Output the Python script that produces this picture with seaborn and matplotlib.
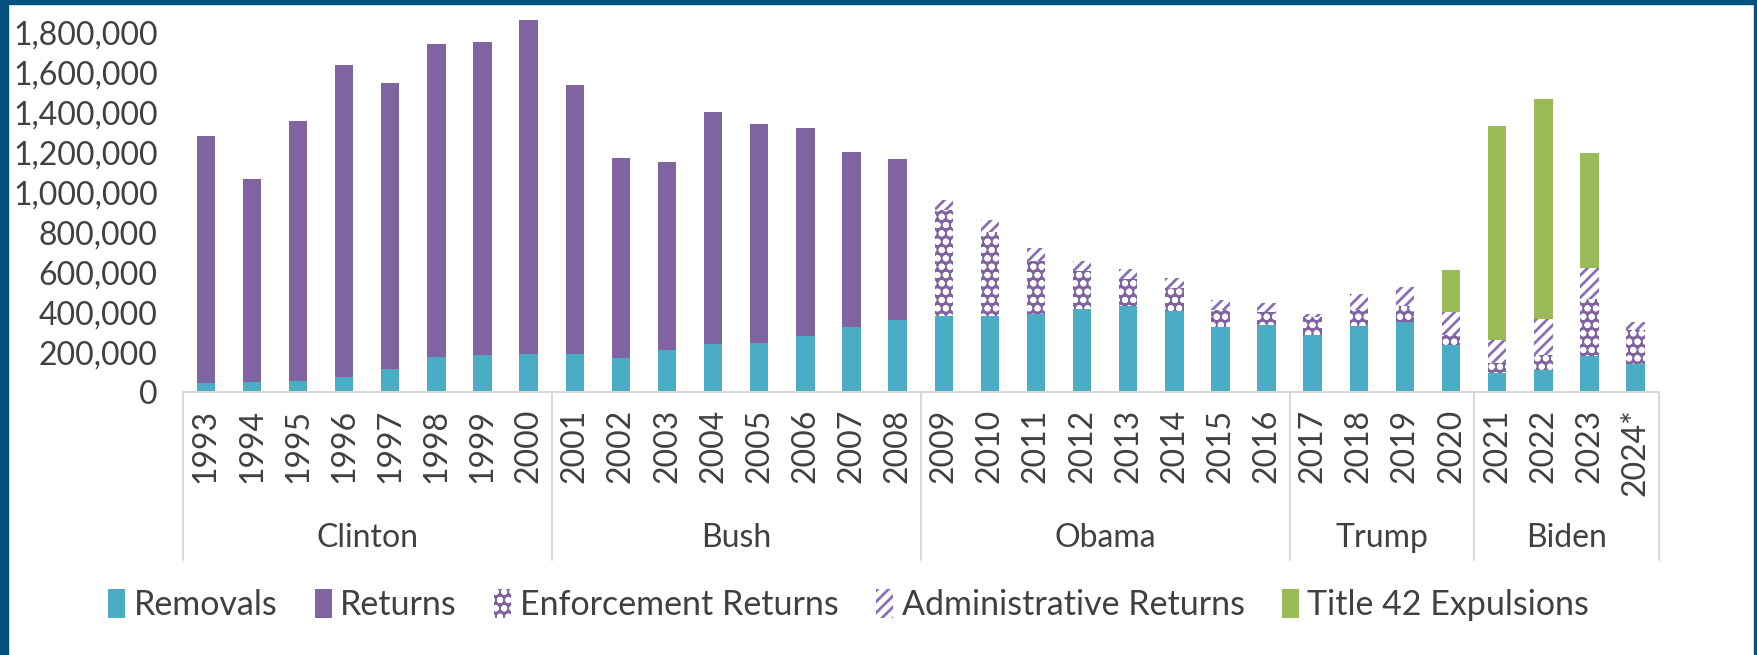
import pandas as pd
import matplotlib
matplotlib.use('Agg')
import matplotlib.pyplot as plt
from matplotlib.patches import Patch, Rectangle
from matplotlib.ticker import FuncFormatter
import seaborn as sns

years = ['1993', '1994', '1995', '1996', '1997', '1998', '1999', '2000',
         '2001', '2002', '2003', '2004', '2005', '2006', '2007', '2008',
         '2009', '2010', '2011', '2012', '2013', '2014', '2015', '2016',
         '2017', '2018', '2019', '2020', '2021', '2022', '2023', '2024*']
removals = [47000, 50000, 55000, 75000, 117000, 177000, 188000, 193000,
            192000, 170000, 213000, 242000, 247000, 283000, 325000, 363000,
            381000, 383000, 392000, 418000, 433000, 405000, 327000, 338000,
            288000, 330000, 350000, 238000, 93000, 108000, 183000, 142000]
returns = [1237000, 1020000, 1304000, 1565000, 1434000, 1567000, 1569000, 1671000,
           1346000, 1005000, 942000, 1164000, 1095000, 1039000, 880000, 807000,
           0, 0, 0, 0, 0, 0, 0, 0,
           0, 0, 0, 0, 0, 0, 0, 0]
enforcement_returns = [0, 0, 0, 0, 0, 0, 0, 0,
                       0, 0, 0, 0, 0, 0, 0, 0,
                       534000, 419000, 266000, 187000, 134000, 118000, 86000, 62000,
                       87000, 83000, 83000, 50000, 50000, 77000, 284000, 171000]
admin_returns = [0, 0, 0, 0, 0, 0, 0, 0,
                 0, 0, 0, 0, 0, 0, 0, 0,
                 47000, 58000, 64000, 50000, 50000, 48000, 47000, 47000,
                 17000, 79000, 94000, 114000, 120000, 183000, 155000, 39000]
title42 = [0, 0, 0, 0, 0, 0, 0, 0,
           0, 0, 0, 0, 0, 0, 0, 0,
           0, 0, 0, 0, 0, 0, 0, 0,
           0, 0, 0, 208000, 1071000, 1100000, 578000, 0]
presidents = ['Clinton', 'Bush', 'Obama', 'Trump', 'Biden']
term_years = [8, 8, 8, 4, 4]

cyan = '#4bacc6'
purple = '#8064a2'
stripe = '#8a6fb5'
green = '#9bbb59'
text_color = '#404040'
grey = '#d9d9d9'
border = '#06527f'

sns.set_style('white')
plt.rcParams['font.family'] = ['Lato', 'DejaVu Sans']
plt.rcParams['hatch.linewidth'] = 2.0

df = pd.DataFrame({'year': years})
df['c1'] = removals
df['c2'] = df['c1'] + returns
df['c3'] = df['c2'] + enforcement_returns
df['c4'] = df['c3'] + admin_returns
df['c5'] = df['c4'] + title42

fig = plt.figure(figsize=(17.57, 6.55), dpi=100)
ax = fig.add_axes([0.104, 0.4015, 0.84, 0.5786])

# stacked look: draw cumulative totals from the top layer down
layers = [
    ('c5', green, None, green),
    ('c4', 'white', '///', stripe),
    ('c3', purple, 'oo', 'white'),
    ('c2', purple, None, purple),
    ('c1', cyan, None, cyan),
]
for col, fc, hatch, ec in layers:
    sns.barplot(data=df, x='year', y=col, order=years, color=fc, saturation=1,
                width=0.4, hatch=hatch, edgecolor=ec, linewidth=0,
                errorbar=None, ax=ax)

ax.set_xlim(-0.5, len(years) - 0.5)
ax.set_ylim(0, 1900000)
ax.set_yticks(range(0, 1800001, 200000))
ax.yaxis.set_major_formatter(FuncFormatter(lambda v, p: f'{v:,.0f}'))
ax.set_xlabel('')
ax.set_ylabel('')
ax.tick_params(axis='y', length=0, pad=18, labelsize=23, labelcolor=text_color)
ax.tick_params(axis='x', length=0, pad=12, labelsize=23, labelcolor=text_color,
               labelrotation=90)
for s in ['top', 'right', 'left']:
    ax.spines[s].set_visible(False)
ax.spines['bottom'].set_color(grey)
ax.spines['bottom'].set_linewidth(1.5)

trans = ax.get_xaxis_transform()
start = -0.5
for name, n in zip(presidents, term_years):
    ax.text(start + n / 2, -0.385, name, transform=trans, ha='center', va='center',
            fontsize=23, color=text_color)
    ax.plot([start, start], [0, -0.443], transform=trans, color=grey, lw=1.5,
            clip_on=False)
    start += n
ax.plot([start, start], [0, -0.443], transform=trans, color=grey, lw=1.5,
        clip_on=False)

handles = [
    Patch(facecolor=cyan, lw=0),
    Patch(facecolor=purple, lw=0),
    Patch(facecolor=purple, hatch='oo', edgecolor='white', lw=0),
    Patch(facecolor='white', hatch='///', edgecolor=stripe, lw=0),
    Patch(facecolor=green, lw=0),
]
labels = ['Removals', 'Returns', 'Enforcement Returns', 'Administrative Returns',
          'Title 42 Expulsions']
fig.legend(handles, labels, loc='center', bbox_to_anchor=(0.483, 0.076), ncol=5,
           frameon=False, fontsize=24.5, handlelength=0.5, handleheight=0.9,
           handletextpad=0.25, columnspacing=1.1, labelcolor=text_color)

# dark blue frame on left, top and right
fig.add_artist(Rectangle((0, 0), 8 / 1757, 1, transform=fig.transFigure,
                         color=border, zorder=10))
fig.add_artist(Rectangle((0, 1 - 4 / 655), 1, 4 / 655, transform=fig.transFigure,
                         color=border, zorder=10))
fig.add_artist(Rectangle((1 - 3 / 1757, 0), 3 / 1757, 1, transform=fig.transFigure,
                         color=border, zorder=10))

fig.savefig('out.png', dpi=100)
plt.close()
